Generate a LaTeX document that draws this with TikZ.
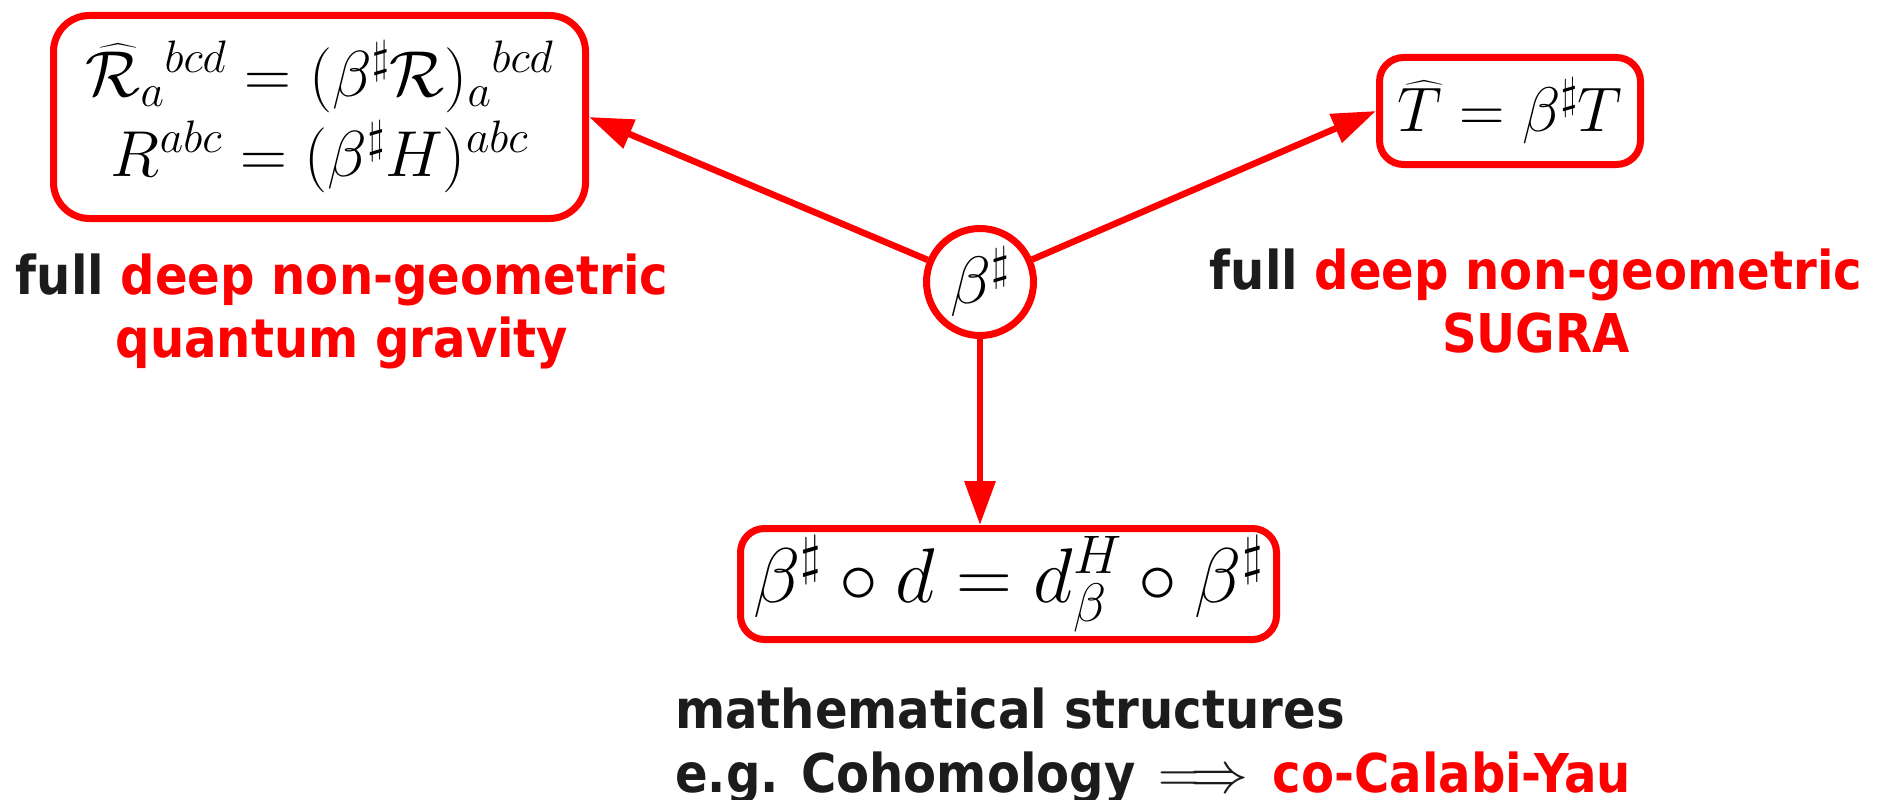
\RequirePackage{fix-cm}
\documentclass[tikz,border=0pt]{standalone}
\usepackage{amsmath}
\usepackage{fontspec}
\newfontfamily\dvs{DejaVu Sans Condensed}
\usetikzlibrary{arrows.meta}
\definecolor{myred}{RGB}{255,0,0}
\definecolor{ink}{RGB}{28,28,28}
\begin{document}
\begin{tikzpicture}[x=1pt,y=-1pt,
  eqbox/.style={draw=myred, line width=7pt, rounded corners=24pt, inner sep=0pt, align=center, text=black},
  arr/.style={draw=myred, line width=6.5pt, -{Triangle[length=44pt,width=30pt]}},
  lbl/.style={font=\dvs\bfseries\fontsize{53.5}{63}\selectfont, text=ink, inner sep=0pt}
]
\useasboundingbox (0,0) rectangle (1884,800);

\node[eqbox, rounded corners=36pt, minimum width=532pt, minimum height=203pt,
      font=\fontsize{65}{80}\selectfont] (lb) at (319.5,117)
  {$\widehat{\mathcal{R}}_a{}^{bcd}=(\beta^\sharp\mathcal{R})_a{}^{bcd}$\\
   $R^{abc}=(\beta^\sharp H)^{abc}$};

\node[eqbox, minimum width=261pt, minimum height=107pt,
      font=\fontsize{63}{72}\selectfont] (rb) at (1510,111)
  {$\widehat{T}=\beta^\sharp T$};

\node[eqbox, minimum width=536pt, minimum height=111pt,
      font=\fontsize{77.5}{90}\selectfont] (bb) at (1008.5,584)
  {$\beta^\sharp\circ d=d^H_\beta\circ\beta^\sharp$};

\node[draw=myred, line width=7pt, circle, minimum size=107pt, inner sep=0pt,
      font=\fontsize{67}{72}\selectfont] (c) at (980,282) {$\beta^\sharp$};

\draw[arr] (c) -- (lb.east);
\draw[arr] (c) -- (rb.west);
\draw[arr] (c) -- (c |- bb.north);

\node[lbl, align=center, anchor=base] (lt) at (342,357)
  {full \textcolor{myred}{deep non-geometric}\\\textcolor{myred}{quantum gravity}};
\node[lbl, align=center, anchor=base] (rt) at (1536,352)
  {full \textcolor{myred}{deep non-geometric}\\\textcolor{myred}{SUGRA}};
\node[lbl, align=left, anchor=base west, font=\dvs\bfseries\fontsize{53.5}{64}\selectfont] (bt) at (675,792)
  {mathematical structures\\e.g. Cohomology\hspace{0.42em}{\fontsize{58}{64}\selectfont$\Longrightarrow$}\hspace{0.46em}\textcolor{myred}{co-Calabi-Yau}};
\end{tikzpicture}
\end{document}
